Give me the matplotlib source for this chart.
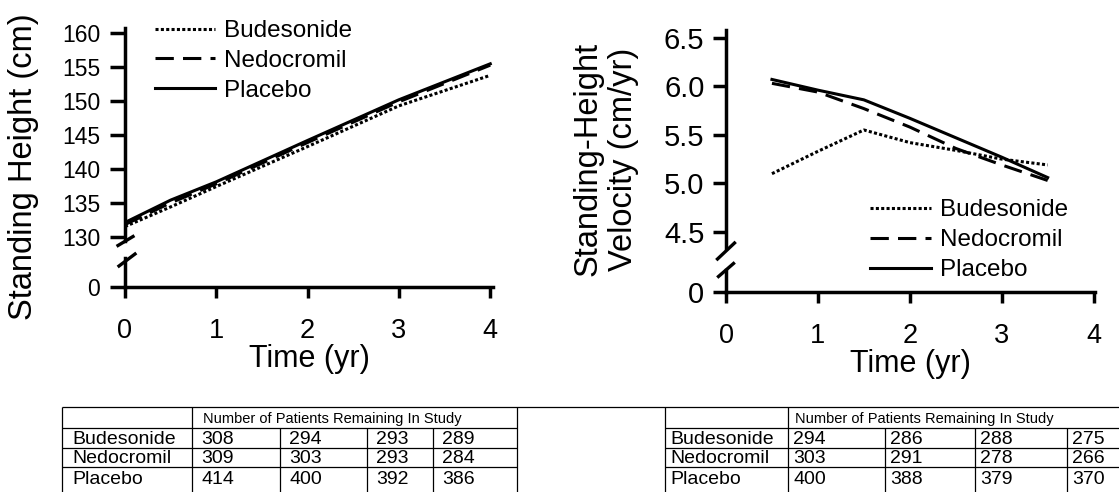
import matplotlib
matplotlib.use("Agg")
import matplotlib.pyplot as plt
from matplotlib.lines import Line2D

plt.rcParams['font.family'] = ['Liberation Sans', 'DejaVu Sans']

# ---- data ----
years = [0, 0.5, 1, 2, 3, 4]
height_bud = [131.5, 134.4, 137.4, 143.3, 149.3, 153.8]
height_ned = [131.8, 135.0, 137.8, 143.9, 149.9, 155.3]
height_pla = [132.1, 135.4, 138.1, 144.2, 150.2, 155.5]

vel_years = [0.5, 1.0, 1.5, 2.0, 2.5, 3.0, 3.5]
vel_bud = [5.10, 5.33, 5.55, 5.42, 5.34, 5.25, 5.19]
vel_ned = [6.03, 5.94, 5.77, 5.58, 5.36, 5.19, 5.03]
vel_pla = [6.07, 5.96, 5.86, 5.67, 5.47, 5.27, 5.06]

groups = ['Budesonide', 'Nedocromil', 'Placebo']
counts_left = [[308, 294, 293, 289], [309, 303, 293, 284], [414, 400, 392, 386]]
counts_right = [[294, 286, 288, 275], [303, 291, 278, 266], [400, 388, 379, 370]]
table_title = 'Number of Patients Remaining In Study'

styles = {'Budesonide': (0, (1, 0.75)), 'Nedocromil': (0, (6, 3)), 'Placebo': '-'}

W, H = 1119, 492
fig = plt.figure(figsize=(W / 100, H / 100), dpi=100)


def box(x0, y0, x1, y1):
    # pixel box (top-down) -> axes
    return fig.add_axes([x0 / W, 1 - y1 / H, (x1 - x0) / W, (y1 - y0) / H])


def slash(xc, yc, dx, dy):
    fig.add_artist(Line2D([(xc - dx) / W, (xc + dx) / W],
                          [1 - (yc + dy) / H, 1 - (yc - dy) / H],
                          transform=fig.transFigure, color='black', lw=2.4))


def style_top(ax):
    for s in ['top', 'right', 'bottom']:
        ax.spines[s].set_visible(False)
    ax.spines['left'].set_linewidth(2.5)
    ax.tick_params(axis='x', bottom=False, labelbottom=False)


def style_bottom(ax, ticklen):
    for s in ['top', 'right']:
        ax.spines[s].set_visible(False)
    ax.spines['left'].set_linewidth(2.5)
    ax.spines['bottom'].set_linewidth(2.5)
    ax.set_ylim(0, 1)
    ax.set_yticks([0])
    ax.set_xticks([0, 1, 2, 3, 4])
    ax.tick_params(axis='x', direction='out', length=8, width=2.5, pad=14, labelsize=19.5)
    ax.tick_params(axis='y', direction='out', length=ticklen, width=2.5)
    ax.patch.set_visible(False)


# ---- left panel: standing height ----
axh = box(125, 28, 493, 241)
axh0 = box(125, 258, 493, 287)
style_top(axh)
style_bottom(axh0, 11)
axh.set_xlim(0, 4.03)
axh0.set_xlim(0, 4.03)
axh.set_ylim(129.37, 160.78)
axh.set_yticks([130, 135, 140, 145, 150, 155, 160])
axh.tick_params(axis='y', direction='out', length=11, width=2.5, pad=7, labelsize=16.5)
axh0.tick_params(axis='y', pad=7, labelsize=16.5)
axh.patch.set_visible(False)

for name, vals in zip(groups, [height_bud, height_ned, height_pla]):
    axh.plot(years, vals, color='black', lw=2.2, linestyle=styles[name], label=name)

axh.legend(loc='upper left', bbox_to_anchor=(155 / W, 1 - 20 / H), bbox_transform=fig.transFigure,
           frameon=False, fontsize=17.5, borderpad=0, borderaxespad=0,
           handlelength=2.45, handletextpad=0.4, labelspacing=0.32)
axh0.set_xlabel('Time (yr)', fontsize=22, labelpad=0)
fig.text(24 / W, 1 - 167 / H, 'Standing Height (cm)', rotation=90, ha='center', va='center', fontsize=23.5)
slash(125.5, 241, 7.5, 4.5)
slash(127, 260, 8, 6)

# ---- right panel: standing-height velocity ----
axv = box(726, 30, 1095, 248)
axv0 = box(726, 270, 1095, 292)
style_top(axv)
style_bottom(axv0, 9.5)
axv.set_xlim(0, 4.015)
axv0.set_xlim(0, 4.015)
axv.set_ylim(4.335, 6.579)
axv.set_yticks([4.5, 5.0, 5.5, 6.0, 6.5])
axv.set_yticklabels(['%.1f' % v for v in [4.5, 5.0, 5.5, 6.0, 6.5]])
axv.tick_params(axis='y', direction='out', length=9.5, width=2.5, pad=6, labelsize=21)
axv0.tick_params(axis='y', pad=6, labelsize=21)
axv.patch.set_visible(False)

for name, vals in zip(groups, [vel_bud, vel_ned, vel_pla]):
    axv.plot(vel_years, vals, color='black', lw=2.2, linestyle=styles[name], label=name)

axv.legend(loc='upper left', bbox_to_anchor=(870 / W, 1 - 199 / H), bbox_transform=fig.transFigure,
           frameon=False, fontsize=17.5, borderpad=0, borderaxespad=0,
           handlelength=2.5, handletextpad=0.4, labelspacing=0.33)
axv0.set_xlabel('Time (yr)', fontsize=22, labelpad=0)
fig.text(606 / W, 1 - 159 / H, 'Standing-Height\nVelocity (cm/yr)', rotation=90, ha='center',
         va='center', fontsize=23.5, linespacing=1.2, multialignment='center')
slash(726, 251, 8.5, 8)
slash(726, 270, 7.5, 6.5)

# ---- patient count tables ----
tab = fig.add_axes([0, 0, 1, 1])
tab.set_xlim(0, W)
tab.set_ylim(H, 0)
tab.axis('off')
tab.patch.set_visible(False)

row_lines = [407, 428, 448, 467, 489]
left_cols = [62, 192, 280, 367, 433, 517]
right_cols = [665, 788, 885, 975, 1067, 1160]
lw = 0.9
tab.hlines(row_lines[0], left_cols[0], W, color='black', lw=lw)
for y in row_lines[1:-1]:
    tab.hlines(y, left_cols[0], left_cols[-1], color='black', lw=lw)
    tab.hlines(y, right_cols[0], W, color='black', lw=lw)
for x in [left_cols[0], left_cols[1], left_cols[-1], right_cols[0], right_cols[1]]:
    tab.vlines(x, row_lines[0], H, color='black', lw=lw)
for x in left_cols[2:-1] + right_cols[2:-1]:
    tab.vlines(x, row_lines[1], H, color='black', lw=lw)

row_mid = [(row_lines[i] + row_lines[i + 1]) / 2 + 1 for i in range(len(row_lines) - 1)]
for cols, counts, pad in ((left_cols, counts_left, 9), (right_cols, counts_right, 5)):
    tab.text(cols[1] + pad + 2, row_mid[0], table_title, fontsize=10.5, va='center', ha='left')
    for r, name in enumerate(groups):
        tab.text(cols[0] + (10 if cols is left_cols else 5), row_mid[r + 1], name,
                 fontsize=14, va='center', ha='left')
        for c, n in enumerate(counts[r]):
            tab.text(cols[c + 1] + pad, row_mid[r + 1], str(n), fontsize=14, va='center', ha='left')

fig.savefig('out.png', dpi=100)
